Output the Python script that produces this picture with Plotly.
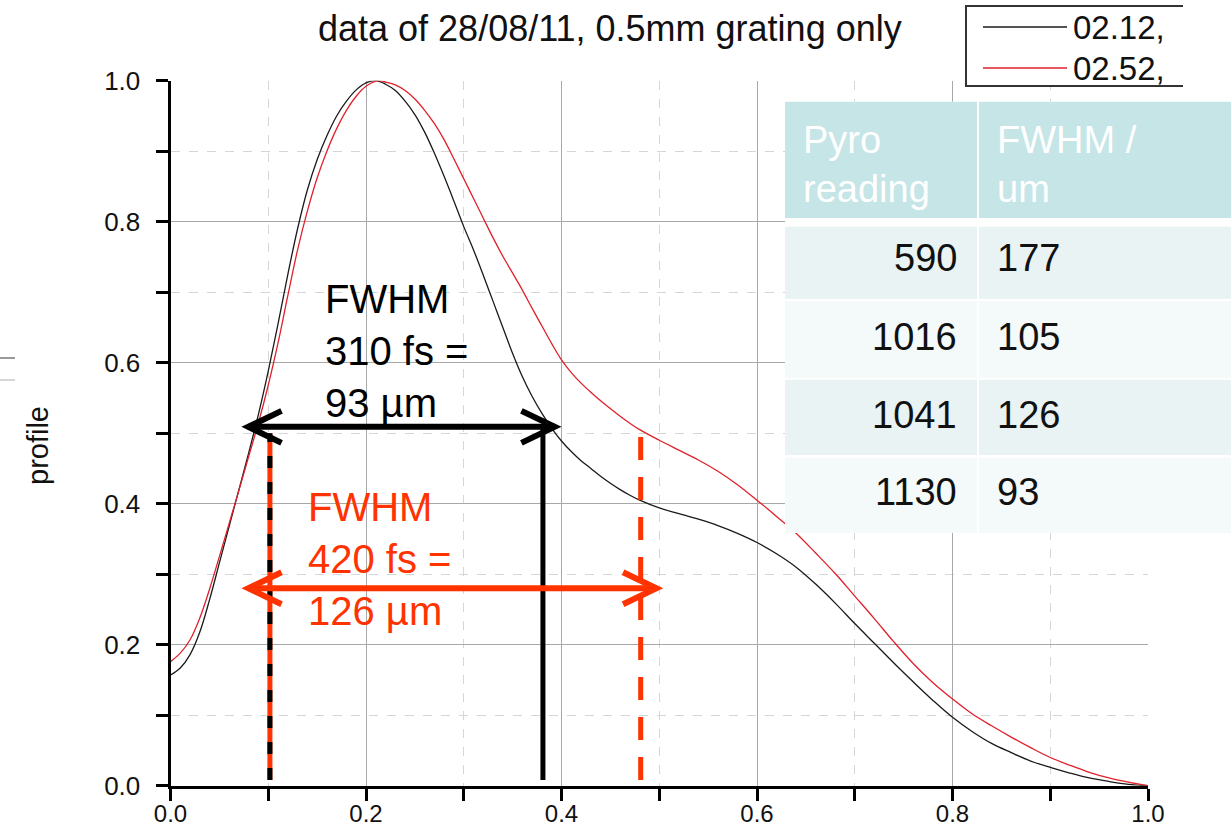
import plotly.graph_objects as go

# ---------------- data ----------------
black_x = [0.0, 0.01, 0.02, 0.03, 0.04, 0.05, 0.06, 0.07, 0.08, 0.09, 0.10, 0.11, 0.12, 0.13,
           0.14, 0.15, 0.16, 0.17, 0.18, 0.19, 0.20, 0.21, 0.22, 0.23, 0.24, 0.25, 0.26, 0.27,
           0.28, 0.29, 0.30, 0.31, 0.32, 0.33, 0.34, 0.35, 0.36, 0.37, 0.38, 0.39, 0.40, 0.41,
           0.42, 0.43, 0.44, 0.45, 0.46, 0.47, 0.48, 0.50, 0.52, 0.54, 0.56, 0.58, 0.60, 0.62,
           0.64, 0.66, 0.68, 0.70, 0.72, 0.74, 0.76, 0.78, 0.80, 0.82, 0.84, 0.86, 0.88, 0.90,
           0.92, 0.94, 0.96, 0.98, 1.0]
black_y = [0.157, 0.167, 0.186, 0.218, 0.264, 0.316, 0.368, 0.420, 0.472, 0.527, 0.588, 0.655, 0.725, 0.790,
           0.845, 0.888, 0.922, 0.950, 0.971, 0.987, 0.997, 1.0, 0.995, 0.986, 0.971, 0.952, 0.927, 0.897,
           0.864, 0.829, 0.793, 0.760, 0.724, 0.687, 0.650, 0.613, 0.580, 0.552, 0.528, 0.507, 0.489, 0.474,
           0.461, 0.450, 0.439, 0.429, 0.420, 0.412, 0.405, 0.394, 0.386, 0.378, 0.369, 0.358, 0.345, 0.329,
           0.310, 0.286, 0.259, 0.230, 0.202, 0.174, 0.147, 0.121, 0.097, 0.077, 0.060, 0.047, 0.035, 0.026,
           0.018, 0.011, 0.006, 0.002, 0.0]
red_x = [0.0, 0.01, 0.02, 0.03, 0.04, 0.05, 0.06, 0.07, 0.08, 0.09, 0.10, 0.11, 0.12, 0.13,
         0.14, 0.15, 0.16, 0.17, 0.18, 0.19, 0.20, 0.2125, 0.22, 0.23, 0.24, 0.25, 0.26, 0.27,
         0.28, 0.29, 0.30, 0.31, 0.32, 0.33, 0.34, 0.35, 0.36, 0.37, 0.38, 0.39, 0.40, 0.41,
         0.42, 0.43, 0.44, 0.45, 0.46, 0.47, 0.48, 0.50, 0.52, 0.54, 0.56, 0.58, 0.60, 0.62,
         0.64, 0.66, 0.68, 0.70, 0.72, 0.74, 0.76, 0.78, 0.80, 0.82, 0.84, 0.86, 0.88, 0.90,
         0.92, 0.94, 0.96, 0.98, 1.0]
red_y = [0.176, 0.188, 0.207, 0.238, 0.279, 0.325, 0.372, 0.419, 0.467, 0.515, 0.568, 0.628, 0.695, 0.760,
         0.815, 0.862, 0.900, 0.932, 0.958, 0.978, 0.992, 1.0, 0.998, 0.994, 0.986, 0.974, 0.958, 0.939,
         0.916, 0.889, 0.861, 0.833, 0.805, 0.777, 0.751, 0.727, 0.703, 0.677, 0.652, 0.627, 0.604, 0.586,
         0.571, 0.558, 0.546, 0.535, 0.524, 0.514, 0.505, 0.490, 0.476, 0.462, 0.446, 0.427, 0.405, 0.382,
         0.358, 0.330, 0.301, 0.269, 0.237, 0.204, 0.173, 0.146, 0.123, 0.102, 0.085, 0.069, 0.054, 0.040,
         0.029, 0.019, 0.011, 0.005, 0.0]
series_names = ["02.12,", "02.52,"]

tick_values = [0.0, 0.2, 0.4, 0.6, 0.8, 1.0]
tick_text = ["0.0", "0.2", "0.4", "0.6", "0.8", "1.0"]

table_header = ["Pyro<br>reading", "FWHM /<br>um"]
pyro_reading = [590, 1016, 1041, 1130]
fwhm_um = [177, 105, 126, 93]

title_text = "data of 28/08/11, 0.5mm grating only"
y_title = "profile"

# FWHM markers (data units)
black_fwhm = dict(x0=0.0796, x1=0.393, y=0.509, text="FWHM<br>310 fs =<br>93 µm")
red_fwhm = dict(x0=0.0796, x1=0.497, y=0.280, text="FWHM<br>420 fs =<br>126 µm")
left_edge_x = 0.1017
black_right_x = 0.381
red_right_x = 0.481

# ---------------- layout helpers ----------------
W, H = 1231, 831
def px(x):
    return x / W
def py(y):
    return 1 - y / H

FONT = "Liberation Sans, Arial, sans-serif"
RED_ANN = "#ff3300"
BLACK = "#000000"

fig = go.Figure()
fig.add_trace(go.Scatter(x=black_x, y=black_y, mode="lines", name=series_names[0],
                         line=dict(color="#1a1a1a", width=1.3, shape="spline", smoothing=1.0),
                         showlegend=False))
fig.add_trace(go.Scatter(x=red_x, y=red_y, mode="lines", name=series_names[1],
                         line=dict(color="#e0202a", width=1.3, shape="spline", smoothing=1.0),
                         showlegend=False))

shapes = []
annotations = []

# vertical markers
shapes.append(dict(type="line", xref="x", yref="y", x0=left_edge_x, x1=left_edge_x, y0=0.008, y1=0.5,
                   line=dict(color=RED_ANN, width=5), layer="above"))
shapes.append(dict(type="line", xref="x", yref="y", x0=left_edge_x, x1=left_edge_x, y0=0.008, y1=0.5,
                   line=dict(color=BLACK, width=5, dash="12px,14px"), layer="above"))
shapes.append(dict(type="line", xref="x", yref="y", x0=black_right_x, x1=black_right_x, y0=0.008, y1=black_fwhm["y"],
                   line=dict(color=BLACK, width=5), layer="above"))
shapes.append(dict(type="line", xref="x", yref="y", x0=red_right_x, x1=red_right_x, y0=0.008, y1=0.5,
                   line=dict(color=RED_ANN, width=5, dash="23px,17px"), layer="above"))

# double arrows
dx, dy = 0.034, 0.0227
for m, col in ((black_fwhm, BLACK), (red_fwhm, RED_ANN)):
    shapes.append(dict(type="line", xref="x", yref="y", x0=m["x0"], x1=m["x1"], y0=m["y"], y1=m["y"],
                       line=dict(color=col, width=6), layer="above"))
    shapes.append(dict(type="path", xref="x", yref="y",
                       path=f"M {m['x0']+dx},{m['y']+dy} L {m['x0']},{m['y']} L {m['x0']+dx},{m['y']-dy}",
                       line=dict(color=col, width=6), layer="above"))
    shapes.append(dict(type="path", xref="x", yref="y",
                       path=f"M {m['x1']-dx},{m['y']+dy} L {m['x1']},{m['y']} L {m['x1']-dx},{m['y']-dy}",
                       line=dict(color=col, width=6), layer="above"))

annotations.append(dict(xref="paper", yref="paper", x=px(323), y=py(351), xanchor="left", yanchor="middle",
                        align="left", text=black_fwhm["text"], showarrow=False,
                        font=dict(family=FONT, size=40, color=BLACK)))
annotations.append(dict(xref="paper", yref="paper", x=px(306), y=py(559), xanchor="left", yanchor="middle",
                        align="left", text=red_fwhm["text"], showarrow=False,
                        font=dict(family=FONT, size=40, color=RED_ANN)))

# ---------------- table ----------------
tx0, tdiv0, tdiv1, tx1 = 785, 977, 979, 1235
shapes.append(dict(type="rect", xref="paper", yref="paper", x0=px(tx0), x1=px(tx1), y0=py(101.7), y1=py(533),
                   fillcolor="white", line=dict(width=0), layer="above"))
header_fill = "#c5e5e7"
row_fills = ["#e9f3f4", "#f4f9f9"]
hdr_top, hdr_bot = 101.7, 218
for (a, b) in ((tx0, tdiv0), (tdiv1, tx1)):
    shapes.append(dict(type="rect", xref="paper", yref="paper", x0=px(a), x1=px(b), y0=py(hdr_top), y1=py(hdr_bot),
                       fillcolor=header_fill, line=dict(width=0), layer="above"))
row_bounds = [(226.7, 299), (301, 377.7), (379.7, 455), (457.7, 533)]
for i, (t, bt) in enumerate(row_bounds):
    for (a, b) in ((tx0, tdiv0), (tdiv1, tx1)):
        shapes.append(dict(type="rect", xref="paper", yref="paper", x0=px(a), x1=px(b), y0=py(t), y1=py(bt),
                           fillcolor=row_fills[i % 2], line=dict(width=0), layer="above"))
annotations.append(dict(xref="paper", yref="paper", x=px(801), y=py(164), xanchor="left", yanchor="middle",
                        align="left", text=table_header[0], showarrow=False,
                        font=dict(family=FONT, size=38, color="white")))
annotations.append(dict(xref="paper", yref="paper", x=px(995), y=py(164), xanchor="left", yanchor="middle",
                        align="left", text=table_header[1], showarrow=False,
                        font=dict(family=FONT, size=38, color="white")))
row_centers = [258.4, 336.7, 415, 492.4]
for i, (p, f) in enumerate(zip(pyro_reading, fwhm_um)):
    annotations.append(dict(xref="paper", yref="paper", x=px(959), y=py(row_centers[i]), xanchor="right",
                            yanchor="middle", text=str(p), showarrow=False,
                            font=dict(family=FONT, size=38, color="#111111")))
    annotations.append(dict(xref="paper", yref="paper", x=px(995), y=py(row_centers[i]), xanchor="left",
                            yanchor="middle", text=str(f), showarrow=False,
                            font=dict(family=FONT, size=38, color="#111111")))

# ---------------- legend (custom) ----------------
shapes.append(dict(type="rect", xref="paper", yref="paper", x0=px(966), x1=px(1183), y0=py(86), y1=py(6),
                   fillcolor="white", line=dict(width=0), layer="above"))
shapes.append(dict(type="path", xref="paper", yref="paper",
                   path=f"M {px(1183)},{py(6)} L {px(966)},{py(6)} L {px(966)},{py(86)} L {px(1183)},{py(86)}",
                   line=dict(color="#333333", width=2), layer="above"))
leg_rows = [(27, "#1a1a1a"), (68, "#e0202a")]
for (yy, col), name in zip(leg_rows, series_names):
    shapes.append(dict(type="line", xref="paper", yref="paper", x0=px(983), x1=px(1067), y0=py(yy), y1=py(yy),
                       line=dict(color=col, width=1.5), layer="above"))
    annotations.append(dict(xref="paper", yref="paper", x=px(1071), y=py(yy + 1), xanchor="left", yanchor="middle",
                            text=name, showarrow=False, font=dict(family=FONT, size=33, color="#111111")))

# stray slide marks on the left
shapes.append(dict(type="line", xref="paper", yref="paper", x0=0, x1=px(15), y0=py(358), y1=py(358),
                   line=dict(color="#555555", width=1.2)))
shapes.append(dict(type="line", xref="paper", yref="paper", x0=0, x1=px(15), y0=py(380), y1=py(380),
                   line=dict(color="#bbbbbb", width=1.2)))

# titles
annotations.append(dict(xref="paper", yref="paper", x=px(610), y=py(29), xanchor="center", yanchor="middle",
                        text=title_text, showarrow=False, font=dict(family=FONT, size=36, color="#111111")))
annotations.append(dict(xref="paper", yref="paper", x=px(38), y=py(446), xanchor="center", yanchor="middle",
                        text=y_title, textangle=-90, showarrow=False,
                        font=dict(family=FONT, size=29, color="#111111")))

axis_common = dict(
    range=[0, 1], tickmode="array", tickvals=tick_values, ticktext=tick_text,
    ticks="outside", ticklen=12, tickwidth=2.5, tickcolor=BLACK,
    showline=True, linewidth=3, linecolor=BLACK, zeroline=False,
    showgrid=True, gridcolor="#a8a8a8", gridwidth=1.2,
    minor=dict(dtick=0.1, tick0=0, ticks="outside", ticklen=12, tickwidth=2.5, tickcolor=BLACK,
               showgrid=True, gridcolor="#d6d6d6", gridwidth=1, griddash="dash"),
    fixedrange=True, automargin=False,
)
fig.update_layout(
    width=W, height=H,
    margin=dict(l=0, r=0, t=0, b=0, autoexpand=False),
    paper_bgcolor="white", plot_bgcolor="white",
    xaxis=dict(domain=[170.5 / W, 1148 / W], ticklabelstandoff=-8,
               tickfont=dict(family=FONT, size=24, color="#111111"), **axis_common),
    yaxis=dict(domain=[1 - 785.7 / H, 1 - 80.7 / H], ticklabelstandoff=10,
               tickfont=dict(family=FONT, size=26, color="#111111"), **axis_common),
    shapes=shapes, annotations=annotations, showlegend=False,
)

fig.write_html("out.html")
